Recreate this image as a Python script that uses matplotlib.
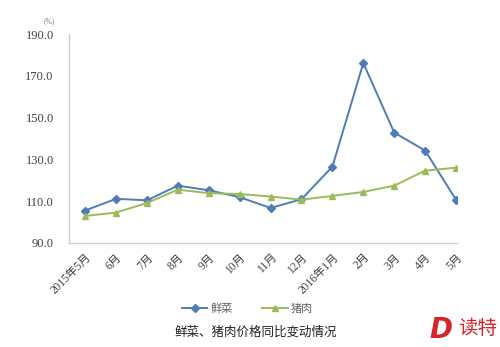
import matplotlib
matplotlib.use("Agg")
import matplotlib.pyplot as plt

categories = ["2015年5月", "6月", "7月", "8月", "9月", "10月", "11月", "12月",
              "2016年1月", "2月", "3月", "4月", "5月"]
vegetables = [105.5, 111.1, 110.4, 117.4, 115.2, 111.9, 106.7, 110.9,
              126.5, 176.1, 142.8, 134.2, 110.6]
pork = [102.9, 104.5, 109.1, 115.5, 113.8, 113.4, 112.2, 110.7,
        112.5, 114.4, 117.4, 124.6, 126.0]
yticks = [90, 110, 130, 150, 170, 190]
legend_labels = ["鲜菜", "猪肉"]
caption = "鲜菜、猪肉价格同比变动情况"

fam = ["Liberation Serif", "Noto Sans CJK SC"]
plt.rcParams['font.family'] = fam

fig = plt.figure(figsize=(5.0, 3.47), dpi=100)
ax = fig.add_axes([0.138, 0.30, 0.776, 0.602])

x = list(range(len(categories)))
ax.plot(x, vegetables, color="#4f7cb8", lw=1.4, marker="D", ms=3.6,
        label=legend_labels[0])
ax.plot(x, pork, color="#9bbb59", lw=1.4, marker="^", ms=4.5,
        label=legend_labels[1])

ax.set_ylim(90, 190)
ax.set_xlim(-0.52, 12.03)
ax.set_yticks(yticks)
ax.set_yticklabels([f"{v:.1f}" for v in yticks], fontsize=9, color="#404040")
ax.set_xticks(x)
ax.set_xticklabels(categories, fontsize=8.3, color="#404040", rotation=45,
                   ha="right", va="top", rotation_mode="anchor")
ax.tick_params(axis="both", length=0)
ax.tick_params(axis="y", pad=11)
ax.tick_params(axis="x", pad=6)

for s in ["top", "right"]:
    ax.spines[s].set_visible(False)
for s in ["left", "bottom"]:
    ax.spines[s].set_color("#d0d0d0")
    ax.spines[s].set_linewidth(1.0)

fig.text(0.098, 0.940, "(%)", fontsize=5.5, color="#808080", ha="center", va="center")

leg = fig.legend(loc="center", bbox_to_anchor=(0.495, 0.11), ncol=2, frameon=False,
                 fontsize=8, handlelength=2.3, columnspacing=2.6,
                 handletextpad=0.3)
for t in leg.get_texts():
    t.set_color("#606060")

fig.text(0.512, 0.043, caption, fontsize=9, color="#202020",
         ha="center", va="center")

fig.text(0.858, 0.050, "D", fontsize=20, color="#d8232a", fontweight="bold",
         style="italic", family="DejaVu Sans", ha="left", va="center")
fig.text(0.917, 0.052, "读特", fontsize=14, color="#d8232a",
         family="Noto Sans CJK SC", ha="left", va="center")

fig.savefig("out.png", dpi=100, facecolor="white")
